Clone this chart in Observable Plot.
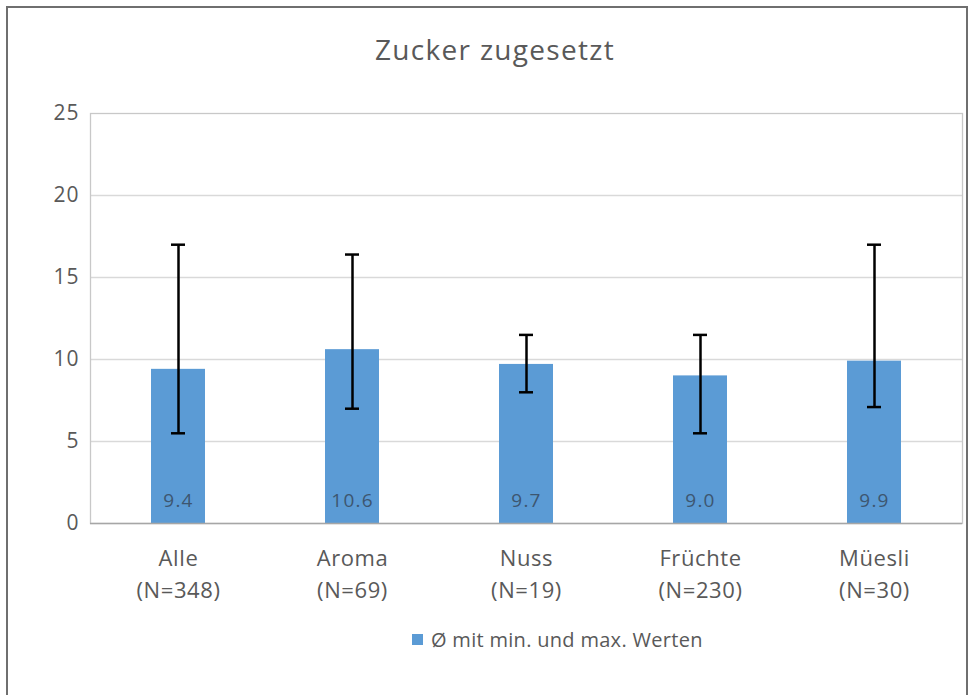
<!DOCTYPE html>
<html>
<head>
<meta charset="utf-8">
<script src="https://cdn.jsdelivr.net/npm/d3@7"></script>
<script src="https://cdn.jsdelivr.net/npm/@observablehq/plot@0.6"></script>
<style>
  html, body { margin: 0; padding: 0; background: #fff; }
  #wrap { position: relative; width: 972px; height: 695px; overflow: hidden; background: #fff; font-family: "Open Sans", Lato, sans-serif; }
  #border { position: absolute; left: 6px; top: 6px; width: 962px; height: 700px; border: 2px solid #6f6f6f; box-sizing: border-box; }
  #title { position: absolute; left: 0; top: 30px; width: 990px; text-align: center; font-size: 28px; letter-spacing: 1.3px; color: #595959; }
  #chart { position: absolute; left: 0; top: 80px; }
  #chart svg g[aria-label="x-axis tick label"] text { letter-spacing: 0.6px; }
  #chart svg g[aria-label="y-axis tick label"] text { letter-spacing: 1px; }
  #chart svg g[aria-label="text"] text { letter-spacing: 1.2px; }
  #legend { position: absolute; left: 412px; top: 626px; font-size: 20px; letter-spacing: 0.3px; color: #595959; display: flex; align-items: center; }
  #legend .sw { width: 11px; height: 11px; background: #5B9BD5; margin-right: 8px; }
</style>
</head>
<body>
<div id="wrap">
  <div id="border"></div>
  <div id="title">Zucker zugesetzt</div>
  <div id="chart"></div>
  <div id="legend"><span class="sw"></span><span>Ø mit min. und max. Werten</span></div>
</div>
<script>
const categories = ["Alle", "Aroma", "Nuss", "Früchte", "Müesli"];
const nLabels = ["(N=348)", "(N=69)", "(N=19)", "(N=230)", "(N=30)"];
const means = [9.4, 10.6, 9.7, 9.0, 9.9];
const mins = [5.5, 7.0, 8.0, 5.5, 7.1];
const maxs = [17.0, 16.4, 11.5, 11.5, 17.0];
const yTicks = [0, 5, 10, 15, 20, 25];

const data = categories.map((c, i) => ({cat: c, n: nLabels[i], mean: means[i], min: mins[i], max: maxs[i]}));
const nOf = Object.fromEntries(categories.map((c, i) => [c, nLabels[i]]));

const chart = Plot.plot({
  width: 972,
  height: 528,
  marginTop: 33,
  marginBottom: 85,
  marginLeft: 90,
  marginRight: 10,
  style: {fontFamily: "'Open Sans', Lato, sans-serif", background: "transparent"},
  x: {domain: categories, padding: 0, label: null},
  y: {domain: [0, 25], label: null},
  marks: [
    Plot.ruleY(yTicks.filter(d => d > 0 && d < 25), {stroke: "#d9d9d9", strokeWidth: 1.3}),
    Plot.frame({stroke: "#c8c8c8", strokeWidth: 1.3}),
    Plot.barY(data, {x: "cat", y: "mean", fill: "#5B9BD5", insetLeft: 60, insetRight: 60}),
    Plot.ruleY([0], {stroke: "#a6a6a6", strokeWidth: 1.5}),
    Plot.ruleX(data, {x: "cat", y1: "min", y2: "max", stroke: "#000", strokeWidth: 2.5}),
    Plot.tickY(data, {x: "cat", y: "min", stroke: "#000", strokeWidth: 2.5, insetLeft: 80, insetRight: 80}),
    Plot.tickY(data, {x: "cat", y: "max", stroke: "#000", strokeWidth: 2.5, insetLeft: 80, insetRight: 80}),
    Plot.text(data, {x: "cat", y: 0, text: d => d.mean.toFixed(1), dy: -23, fill: "#3d5670", fontSize: 19}),
    Plot.axisY({ticks: yTicks, tickSize: 0, tickPadding: 11, fontSize: 21, fill: "#595959", label: null}),
    Plot.axisX({tickSize: 0, tickPadding: 20, fontSize: 22, fill: "#595959", lineHeight: 1.45, label: null,
      tickFormat: d => d + "\n" + nOf[d]})
  ]
});
document.getElementById("chart").appendChild(chart);
</script>
</body>
</html>
